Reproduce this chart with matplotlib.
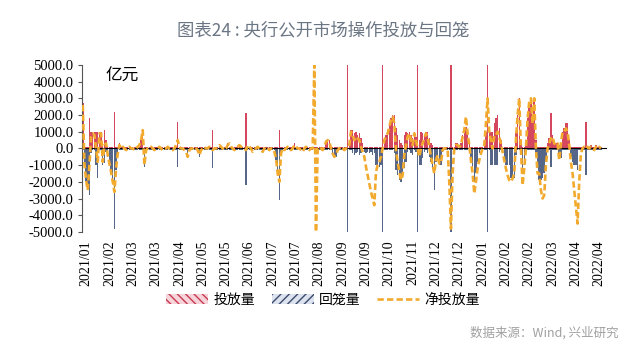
#!/usr/bin/env python3

import matplotlib
matplotlib.use("Agg")
import matplotlib.pyplot as plt
from matplotlib.patches import Patch
from matplotlib.lines import Line2D
import numpy as np

# 投放量 (亿元), one value per trading day
inject = [
    2700, 100, 100, 100, 1800, 1000, 1000, 1000, 1000, 1000,
    1000, 1000, 200, 1100, 500, 100, 100, 100, 100, 2200,
    100, 100, 300, 100, 100, 100, 100, 100, 100, 100,
    100, 100, 100, 100, 100, 500, 1000, 100, 100, 100,
    100, 100, 100, 100, 100, 100, 100, 100, 100, 100,
    100, 100, 100, 100, 100, 100, 100, 1600, 100, 100,
    100, 100, 100, 100, 100, 100, 100, 100, 100, 100,
    100, 100, 100, 100, 100, 100, 100, 100, 1100, 100,
    100, 100, 100, 100, 100, 100, 100, 300, 100, 100,
    100, 100, 100, 100, 100, 100, 100, 100, 2100, 100,
    100, 100, 100, 100, 100, 100, 100, 100, 100, 100,
    100, 100, 100, 100, 100, 100, 100, 100, 1100, 100,
    100, 100, 100, 100, 100, 100, 100, 300, 100, 100,
    100, 100, 100, 100, 100, 100, 100, 100, 100, 100,
    100, 100, 100, 100, 100, 100, 400, 500, 500, 100,
    100, 100, 100, 100, 100, 100, 100, 100, 100, 5000,
    300, 1100, 1100, 900, 1000, 800, 900, 600, 300, 100,
    100, 100, 100, 100, 100, 100, 100, 100, 100, 100,
    5000, 600, 800, 1000, 1400, 1800, 2000, 2000, 1200, 800,
    500, 300, 200, 800, 1000, 900, 1000, 800, 600, 1000,
    700, 5000, 500, 1000, 900, 800, 1000, 1000, 600, 300,
    200, 100, 100, 100, 100, 100, 100, 100, 100, 100,
    100, 5000, 100, 100, 300, 300, 100, 300, 800, 1200,
    1300, 1000, 500, 100, 100, 100, 100, 100, 100, 100,
    100, 200, 1000, 5000, 1000, 1000, 1000, 1500, 1800, 2000,
    1200, 500, 100, 100, 100, 100, 100, 100, 100, 100,
    1000, 2000, 3000, 500, 100, 100, 500, 1800, 2500, 2900,
    1500, 2800, 500, 100, 100, 100, 100, 100, 100, 300,
    600, 2100, 800, 300, 300, 300, 200, 200, 1000, 1200,
    1500, 1500, 500, 100, 100, 100, 100, 100, 100, 100,
    100, 100, 1600, 100, 100, 200, 100, 100, 200, 100,
    100, 100,
]

# 回笼量 (亿元)
withdraw = [
    -100, -1000, -2000, -2500, -2800, -300, -100, -100, -1000, -1800,
    -100, -100, -1000, -900, -200, -500, -1000, -1500, -2100, -4800,
    -1300, -400, -100, -100, -100, -100, -100, -100, -100, -100,
    -100, -100, -100, -100, -100, -100, -100, -1100, -200, -100,
    -100, -100, -100, -100, -100, -100, -100, -100, -100, -100,
    -100, -100, -100, -100, -100, -100, -100, -1100, -100, -100,
    -100, -100, -100, -600, -100, -100, -100, -100, -100, -100,
    -500, -100, -100, -100, -100, -100, -100, -100, -1200, -100,
    -100, -100, -100, -100, -100, -100, -100, -100, -100, -100,
    -100, -100, -100, -100, -100, -100, -100, -100, -2200, -100,
    -100, -100, -100, -100, -100, -100, -100, -100, -100, -100,
    -100, -100, -100, -100, -100, -100, -700, -1600, -3100, -400,
    -100, -100, -100, -100, -100, -100, -100, -100, -100, -100,
    -100, -100, -100, -100, -100, -100, -100, -100, -100, -100,
    -100, -100, -100, -100, -100, -100, -100, -100, -100, -100,
    -400, -600, -500, -100, -100, -100, -100, -100, -100, -5000,
    -100, -100, -300, -400, -300, -200, -400, -300, -200, -200,
    -300, -200, -300, -200, -400, -300, -1000, -1100, -1100, -1000,
    -5000, -100, -100, -100, -100, -100, -100, -300, -1300, -1600,
    -1900, -2000, -1800, -1200, -800, -200, -100, -300, -400, -100,
    -200, -5000, -1000, -1000, -600, -200, -100, -300, -500, -800,
    -1200, -2500, -800, -500, -1000, -1000, -200, -100, -100, -100,
    -100, -5000, -100, -100, -100, -100, -100, -100, -100, -100,
    -100, -100, -100, -800, -1300, -2000, -1500, -800, -300, -100,
    -100, -100, -100, -5000, -100, -1000, -1000, -1000, -1000, -1000,
    -200, -100, -300, -600, -1000, -1000, -1000, -1800, -1800, -1800,
    -400, -100, -100, -400, -1500, -1000, -100, -100, -100, -100,
    -100, -100, -400, -1200, -1900, -1900, -1800, -1500, -800, -100,
    -100, -1100, -100, -100, -100, -100, -300, -600, -100, -100,
    -100, -100, -100, -500, -800, -1000, -1000, -1300, -100, -100,
    -100, -100, -1600, -100, -100, -100, -100, -100, -100, -100,
    -100, -100,
]

# 净投放量 (亿元)
net = [
    2600, -900, -1900, -2500, -1000, 700, 900, 800, 0, -800,
    900, 900, -800, 200, 300, -400, -900, -1400, -2000, -2600,
    -1200, -300, 200, 0, 100, 0, -100, 0, 100, 0,
    0, -100, 0, 100, 200, 500, 1100, -1000, -100, 0,
    0, 100, 0, -100, 0, 0, 100, 0, -100, 0,
    0, 100, 0, 0, -100, 0, 200, 500, 100, 0,
    0, -100, -200, -500, -100, 0, 0, 100, 0, -100,
    -400, -100, 0, 100, 0, 0, 100, 0, -100, 0,
    0, 100, 200, 100, 0, -100, 0, 200, 300, 100,
    0, -100, 0, 100, 200, 100, 0, 0, -100, 200,
    100, 0, -200, -100, 0, 100, 0, -100, -200, 0,
    100, 0, -100, 0, 0, -200, -600, -1500, -2000, -300,
    0, -100, 0, 100, 0, -100, 0, 200, 100, 0,
    0, -100, -200, 0, 100, 0, -100, 0, 0, 5000,
    -5000, 0, 100, 0, -100, 100, 400, 500, 400, 0,
    -300, -500, -400, -100, 0, 100, 0, -100, 0, 0,
    200, 1000, 800, 500, 700, 600, 500, 100, -200, -500,
    -1100, -1600, -2100, -2600, -3000, -3400, -1400, -1000, -800, -500,
    0, 500, 700, 900, 1300, 1700, 1900, 1500, -100, -800,
    -1400, -1900, -1600, -400, 200, 700, 900, 500, 200, 900,
    500, 0, -500, 0, 300, 600, 900, 700, 100, -500,
    -1000, -1500, -700, -400, -900, -900, -100, 0, 0, 0,
    -2000, -4800, -1500, 0, 200, 200, 100, 200, 700, 1100,
    1900, 900, 200, -700, -1500, -2700, -2000, -1200, -700, -300,
    0, 200, 1500, 3000, 900, 500, 0, 800, 800, 1000,
    700, 300, -200, -700, -1200, -1600, -1900, -2000, -1800, -1500,
    500, 2000, 3000, 0, -2200, -1200, 0, 1800, 2800, 3000,
    1500, 3000, 0, -1500, -1500, -2500, -3000, -2800, -1000, 0,
    300, 600, 700, 300, 200, 300, -700, 300, 1000, 1000,
    1200, 1000, 200, -800, -1500, -2500, -3500, -4500, -2000, -300,
    0, 100, 0, 100, 0, 100, 0, -100, 100, 0,
    100, 0,
]

tick_labels = [
    "2021/01", "2021/02", "2021/03", "2021/03", "2021/04", "2021/05",
    "2021/05", "2021/06", "2021/07", "2021/07", "2021/08", "2021/09",
    "2021/09", "2021/10", "2021/11", "2021/12", "2021/12", "2022/01",
    "2022/02", "2022/02", "2022/03", "2022/04", "2022/04",
]

CJK = ["Noto Sans CJK SC", "DejaVu Sans"]
SERIF = ["Liberation Serif", "DejaVu Serif"]

red = "#d4475f"
blue = "#556689"
orange = "#f2aa2e"

x = np.arange(len(net))
tick_pos = np.arange(len(tick_labels)) * 14 + 2

fig = plt.figure(figsize=(6.4, 3.59), dpi=100)
ax = fig.add_axes([0.128, 0.354, 0.82, 0.465])

ax.bar(x, inject, width=0.9, color=red, linewidth=0, zorder=2)
ax.bar(x, withdraw, width=0.9, color=blue, linewidth=0, zorder=2)
ax.plot(x, net, color=orange, lw=1.9, dashes=(2.4, 1.2), zorder=3)
ax.axhline(0, color="black", lw=0.8, zorder=2.5)

ax.set_xlim(-0.5, 314.5)
ax.set_ylim(-5000, 5000)
ax.set_yticks(np.arange(-5000, 5001, 1000))
ax.set_yticklabels([f"{v:.1f}" for v in np.arange(-5000, 5001, 1000)],
                   family=SERIF, fontsize=10.5)
ax.set_xticks(tick_pos)
ax.set_xticklabels(tick_labels, rotation=90, family=SERIF, fontsize=10)
ax.tick_params(axis="x", length=0, pad=6)
ax.tick_params(axis="y", length=3, width=0.8, color="#555555", pad=3)

for s in ("top", "right", "bottom"):
    ax.spines[s].set_visible(False)
ax.spines["left"].set_color("#555555")
ax.spines["left"].set_linewidth(0.8)

ax.text(0.045, 0.93, "亿元", transform=ax.transAxes, family=CJK,
        fontsize=12, va="center", ha="left")

fig.text(0.505, 0.915, "图表24 : 央行公开市场操作投放与回笼", family=CJK,
         fontsize=12.5, color="#6b7684", ha="center", va="center")

handles = [
    Patch(facecolor="#f7d3da", edgecolor="#c73a52", hatch="\\\\\\\\", lw=0),
    Patch(facecolor="#dde3ee", edgecolor="#3c4a6e", hatch="////", lw=0),
    Line2D([0], [0], color=orange, lw=1.9, dashes=(2.4, 1.2)),
]
fig.legend(handles, ["投放量", "回笼量", "净投放量"], loc="center",
           bbox_to_anchor=(0.505, 0.165), ncol=3, frameon=False,
           prop={"family": CJK, "size": 10}, handlelength=3.0,
           handletextpad=0.4, columnspacing=1.2)

fig.text(0.966, 0.072, "数据来源：Wind, 兴业研究", family=CJK, fontsize=9,
         color="#a0a0a0", ha="right", va="center")

plt.savefig("out.png", dpi=100)
